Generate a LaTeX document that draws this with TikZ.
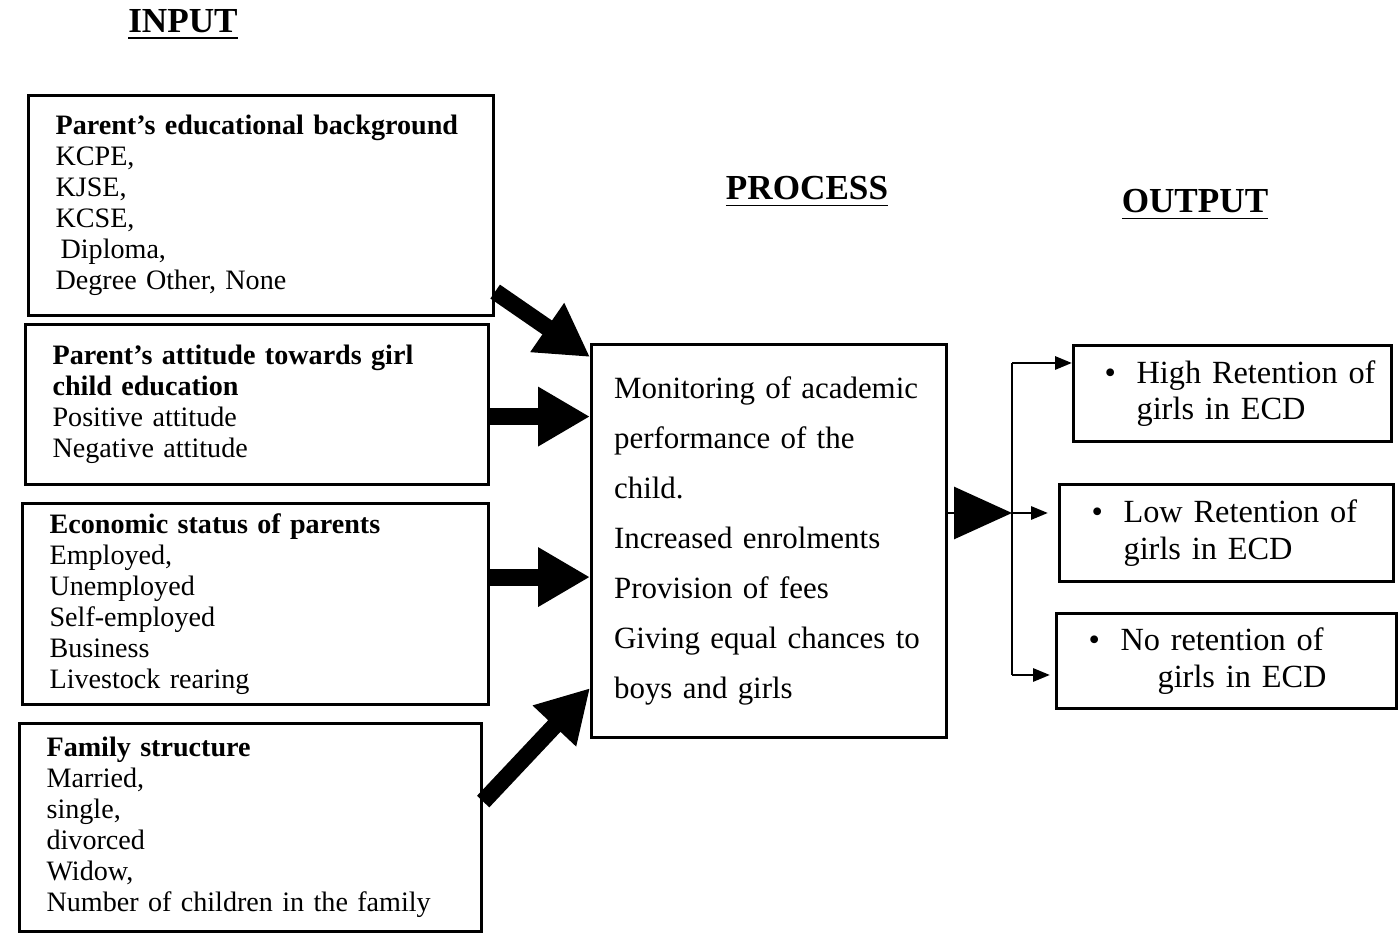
\documentclass[tikz,border=0pt]{standalone}
\usepackage{fontspec}
\setmainfont{Liberation Serif}
\usetikzlibrary{arrows.meta}

\begin{document}
\begin{tikzpicture}
  [every node/.style={inner sep=0pt},
   title/.style={font=\fontsize{10}{12}\selectfont\bfseries},
   inbox/.style={draw,line width=0.9pt,anchor=north west,align=left,inner xsep=0.27cm,font=\fontsize{8}{8.8}\selectfont},
   procbox/.style={draw,line width=0.9pt,anchor=north west,align=left,inner xsep=0.225cm,font=\fontsize{8.8}{14.2}\selectfont},
   outbox/.style={draw,line width=0.9pt,anchor=north west,align=left,inner xsep=0.1cm,font=\fontsize{9.2}{10.5}\selectfont},
   bigarrow/.style={line width=4.8pt,-{Triangle[length=5.2mm,width=5.6mm]}},
   headarrow/.style={line width=0.85pt,-{Triangle[length=5.8mm,width=5.2mm]}},
   smallarrow/.style={line width=0.85pt,-{Triangle[length=1.7mm,width=1.3mm]}}]
  \useasboundingbox (0,0) rectangle (13.99,-9.33);

  % titles
  \node[title] (tin) at (1.83,-0.25) {\underline{INPUT}};
  \node[title] (tproc) at (8.07,-1.92) {\underline{PROCESS}};
  \node[title] (tout) at (11.95,-2.05) {\underline{OUTPUT}};

  % input boxes
  \node[inbox,text width=4.11cm,minimum height=2.2cm] (in1) at (0.27,-0.94)
    {\textbf{Parent's educational background}\\KCPE,\\KJSE,\\KCSE,\\\hspace*{0.5mm}Diploma,\\Degree Other, None};
  \node[inbox,text width=4.09cm,minimum height=1.6cm] (in2) at (0.24,-3.23)
    {\textbf{Parent's attitude towards girl}\\\textbf{child education}\\Positive attitude\\Negative attitude};
  \node[inbox,text width=4.12cm,minimum height=2.01cm] (in3) at (0.21,-5.02)
    {\textbf{Economic status of parents}\\Employed,\\Unemployed\\Self-employed\\Business\\Livestock rearing};
  \node[inbox,text width=4.08cm,minimum height=2.08cm] (in4) at (0.18,-7.22)
    {\textbf{Family structure}\\Married,\\single,\\divorced\\Widow,\\Number of children in the family};

  % process box
  \node[procbox,text width=3.1cm,minimum height=3.93cm] (proc) at (5.90,-3.43)
    {Monitoring of academic\\performance of the\\child.\\Increased enrolments\\Provision of fees\\Giving equal chances to\\boys and girls};

  % output boxes
  \node[outbox,text width=2.98cm,minimum height=0.96cm] (out1) at (10.72,-3.44)
    {\hspace*{0.21cm}\makebox[0.32cm][l]{\textbullet}High Retention of\\\hspace*{0.53cm}girls in ECD};
  \node[outbox,text width=3.14cm,minimum height=0.97cm] (out2) at (10.58,-4.83)
    {\hspace*{0.22cm}\makebox[0.32cm][l]{\textbullet}Low Retention of\\\hspace*{0.54cm}girls in ECD};
  \node[outbox,text width=3.2cm,minimum height=0.95cm] (out3) at (10.55,-6.12)
    {\hspace*{0.22cm}\makebox[0.32cm][l]{\textbullet}No retention of\\\hspace*{0.91cm}girls in ECD};

  % arrows into the process
  \draw[bigarrow] ([yshift=-0.86cm]in1.east) -- ([yshift=-0.14cm]proc.north west);
  \draw[bigarrow] ([yshift=-0.12cm]in2.east) -- ([yshift=-0.12cm]in2.east -| proc.west);
  \draw[bigarrow] ([yshift=0.27cm]in3.east) -- ([yshift=0.27cm]in3.east -| proc.west);
  \draw[bigarrow] ([yshift=0.26cm]in4.east) -- ([yshift=0.51cm]proc.south west);

  % split to the outputs
  \coordinate (split) at (10.12,-5.13);
  \coordinate (top) at (10.12,-3.63);
  \coordinate (bot) at (10.12,-6.75);
  \draw[headarrow] (split -| proc.east) -- (split);
  \draw[line width=0.85pt] (top) -- (bot);
  \draw[smallarrow] (top) -- (top -| out1.west);
  \draw[smallarrow] (split) -- ([xshift=-1mm]split -| out2.west);
  \draw[smallarrow] (bot) -- ([xshift=-0.5mm]bot -| out3.west);
\end{tikzpicture}
\end{document}
